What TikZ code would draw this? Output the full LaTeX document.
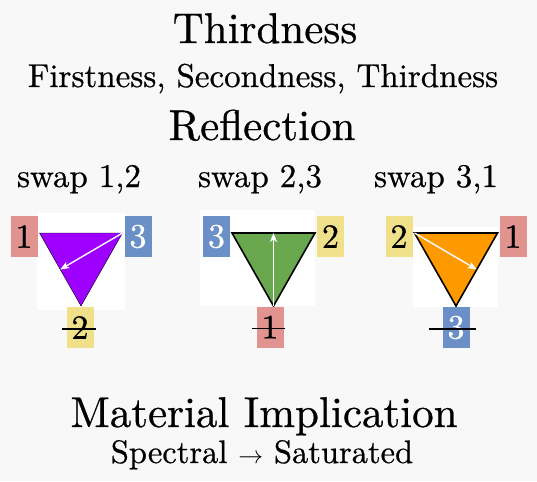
\documentclass[tikz,border=0pt]{standalone}
\usepackage{fontspec}
\setmainfont{lmroman10-regular.otf}[FakeBold=0.6]
\usepackage{tikz}
\usetikzlibrary{arrows.meta}
\usetikzlibrary{calc}
\definecolor{paper}{HTML}{F8F8F8}
\definecolor{pinkbox}{HTML}{E0938F}
\definecolor{yellowbox}{HTML}{F0E08A}
\definecolor{bluebox}{HTML}{6B90C7}
\definecolor{violettri}{HTML}{9D00FF}
\definecolor{greentri}{HTML}{6AA84F}
\definecolor{orangetri}{HTML}{FF9900}
\tikzset{bigtext/.style = {anchor = base, inner sep = 0, font = \fontsize{43}{48}\selectfont}}
\tikzset{midtext/.style = {anchor = base, inner sep = 0, font = \fontsize{33}{38}\selectfont}}
\tikzset{lbl/.style = {inner sep = 0, minimum width = 27, minimum height = 41,
                       font = \fontsize{34}{36}\selectfont}}
\tikzset{firstbox/.style = {lbl, fill = pinkbox}}
\tikzset{secondbox/.style = {lbl, fill = yellowbox}}
\tikzset{thirdbox/.style = {lbl, fill = bluebox, text = white}}
\tikzset{tri/.style = {draw = black, line join = miter}}
\tikzset{flip/.style = {draw = white, line width = 1.4,
                        -{Stealth[length = 9, width = 7, inset = 2.5]}}}
\tikzset{strike/.style = {draw = black, line width = 1.3}}

\begin{document}
\begin{tikzpicture}[x=1pt, y=-1pt]
    \fill [paper] (0, 0) rectangle (537, 481);
    \useasboundingbox (0, 0) rectangle (537, 481);

    \node [bigtext] (title) at (265, 43) {Thirdness};
    \node [midtext] (cats) at (263, 87) {Firstness, Secondness, Thirdness};
    \node [bigtext] (refl) at (262, 140) {Reflection};

    \node [midtext] (s12) at (79, 187) {swap 1,2};
    \node [midtext] (s23) at (260, 187) {swap 2,3};
    \node [midtext] (s31) at (436, 187) {swap 3,1};

    % swap 1,2
    \begin{scope}[shift={(81, 233)}]
      \fill [white] (-44, -20) rectangle (44, 77);
      \coordinate (a1) at (-41.5, 0);
      \coordinate (b1) at (41.5, 0);
      \coordinate (c1) at (0, 73);
      \filldraw [tri, fill = violettri, line width = 0.4] (a1) -- (b1) -- (c1) -- cycle;
      \draw [flip] (b1) -- ($(a1)!0.5!(c1)$);
      \node [firstbox] (l1) at (-57, 3.5) {1};
      \node [thirdbox] (r1) at (57, 3.5) {3};
      \node [secondbox] (d1) at (-1, 94.5) {2};
      \draw [strike] ([shift={(-4, 1.5)}]d1.west) -- ([shift={(2, 1.5)}]d1.east);
    \end{scope}

    % swap 2,3
    \begin{scope}[shift={(273.5, 233)}]
      \fill [white] (-73.5, -23) rectangle (41.5, 73);
      \coordinate (a2) at (-41.5, 0);
      \coordinate (b2) at (41.5, 0);
      \coordinate (c2) at (0, 73);
      \filldraw [tri, fill = greentri, line width = 1.6] (a2) -- (b2) -- (c2) -- cycle;
      \draw [flip] (c2) -- ($(a2)!0.5!(b2)$);
      \node [thirdbox] (l2) at (-57, 3.5) {3};
      \node [secondbox] (r2) at (57, 3.5) {2};
      \node [firstbox] (d2) at (-3.5, 94) {1};
      \draw [strike] ([shift={(-4, 1.5)}]d2.west) -- ([shift={(1, 1.5)}]d2.east);
    \end{scope}

    % swap 3,1
    \begin{scope}[shift={(456, 233)}]
      \fill [white] (-43, -6) rectangle (42, 74);
      \coordinate (a3) at (-41.5, 0);
      \coordinate (b3) at (41.5, 0);
      \coordinate (c3) at (0, 73);
      \filldraw [tri, fill = orangetri, line width = 1.6] (a3) -- (b3) -- (c3) -- cycle;
      \draw [flip] (a3) -- ($(b3)!0.5!(c3)$);
      \node [secondbox] (l3) at (-57, 3.5) {2};
      \node [firstbox] (r3) at (57, 3.5) {1};
      \node [thirdbox] (d3) at (0, 94.5) {3};
      \draw [strike] ([shift={(-13, 1.5)}]d3.west) -- ([shift={(6, 1.5)}]d3.east);
    \end{scope}

    \node [bigtext] (mi) at (264, 427) {Material Implication};
    \node [midtext, font = \fontsize{32.5}{36}\selectfont] (spec) at (262, 463) {Spectral {$\rightarrow$} Saturated};
\end{tikzpicture}
\end{document}
